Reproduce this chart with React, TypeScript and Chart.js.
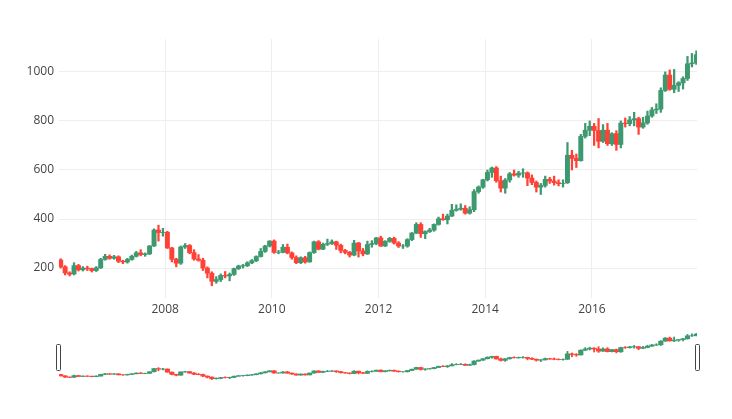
import React, { useEffect, useRef } from 'react';
import { Chart, registerables } from 'chart.js';

Chart.register(...registerables);

// Monthly OHLC, Jan 2006 .. Dec 2017
const START_YEAR = 2006;
const opens = [
  233, 205, 180, 176, 210, 193, 200, 198, 190, 201, 235, 248,
  240, 246, 228, 225, 235, 248, 262, 255, 258, 290, 355, 345,
  346, 282, 236, 220, 286, 292, 263, 237, 232, 200, 179, 146,
  153, 170, 168, 174, 198, 208, 210, 221, 230, 247, 268, 290,
  310, 264, 264, 285, 262, 243, 222, 242, 225, 263, 307, 277,
  297, 300, 307, 293, 272, 264, 253, 302, 270, 258, 296, 300,
  323, 290, 309, 321, 302, 290, 290, 316, 343, 378, 340, 349,
  355, 378, 401, 397, 412, 436, 440, 444, 424, 438, 512, 530,
  560, 590, 608, 556, 526, 559, 584, 579, 587, 588, 567, 549,
  530, 537, 562, 555, 548, 544, 548, 660, 647, 638, 737, 762,
  778, 761, 717, 762, 707, 748, 704, 791, 789, 804, 809, 775,
  792, 820, 845, 848, 924, 987, 929, 945, 955, 973, 1033, 1036,
];
const highs = [
  238, 210, 185, 222, 215, 206, 208, 200, 206, 240, 256, 254,
  252, 250, 232, 240, 253, 268, 275, 262, 292, 360, 375, 362,
  350, 285, 240, 290, 300, 296, 275, 255, 240, 205, 185, 165,
  176, 186, 180, 200, 212, 215, 226, 235, 250, 280, 293, 312,
  315, 272, 296, 298, 266, 250, 246, 248, 266, 310, 312, 302,
  318, 315, 310, 298, 276, 268, 313, 305, 280, 310, 312, 325,
  330, 312, 325, 326, 308, 296, 320, 345, 385, 385, 352, 362,
  380, 408, 420, 420, 460, 458, 462, 455, 450, 520, 535, 562,
  600, 612, 614, 575, 565, 590, 600, 595, 605, 592, 580, 555,
  545, 575, 570, 575, 560, 560, 712, 680, 665, 745, 790, 800,
  790, 810, 785, 790, 752, 760, 800, 812, 818, 835, 815, 815,
  840, 855, 870, 935, 1000, 1008, 1010, 960, 980, 1063, 1075, 1086,
];
const lows = [
  200, 172, 168, 172, 188, 188, 190, 184, 186, 198, 232, 236,
  236, 222, 218, 220, 232, 245, 250, 248, 255, 288, 310, 330,
  280, 225, 205, 215, 280, 258, 232, 228, 190, 160, 128, 138,
  145, 160, 148, 170, 194, 200, 206, 218, 226, 245, 264, 286,
  260, 258, 262, 258, 236, 218, 218, 220, 224, 260, 274, 275,
  292, 296, 276, 262, 258, 245, 250, 245, 250, 255, 285, 295,
  288, 288, 305, 298, 284, 280, 285, 312, 340, 325, 320, 345,
  350, 375, 395, 380, 410, 432, 436, 420, 420, 430, 505, 525,
  555, 570, 550, 510, 505, 550, 575, 570, 570, 536, 540, 510,
  500, 530, 545, 538, 535, 530, 545, 600, 610, 636, 730, 740,
  700, 690, 712, 700, 700, 680, 690, 775, 780, 780, 745, 770,
  786, 815, 830, 835, 920, 925, 915, 920, 930, 965, 1020, 1030,
];
const closes = [
  205, 180, 175, 210, 193, 200, 198, 190, 201, 235, 248, 240,
  246, 228, 225, 235, 248, 262, 255, 258, 290, 355, 345, 346,
  282, 236, 220, 286, 292, 263, 237, 232, 200, 179, 146, 153,
  170, 168, 174, 198, 208, 210, 221, 230, 247, 268, 290, 310,
  264, 264, 285, 262, 243, 222, 242, 225, 263, 307, 277, 297,
  300, 307, 293, 272, 264, 253, 302, 270, 258, 296, 300, 323,
  290, 309, 321, 302, 290, 290, 316, 343, 378, 340, 349, 355,
  378, 401, 397, 412, 436, 440, 444, 424, 438, 512, 530, 560,
  590, 608, 556, 526, 559, 584, 579, 587, 588, 567, 549, 530,
  537, 562, 555, 548, 544, 545, 660, 647, 638, 737, 762, 778,
  761, 717, 762, 707, 748, 704, 791, 789, 804, 809, 775, 792,
  820, 845, 848, 924, 987, 929, 945, 955, 973, 1033, 1036, 1070,
];
const xTickYears = [2008, 2010, 2012, 2014, 2016];
const yTickValues = [200, 400, 600, 800, 1000];

const INC = '#3D9970';
const DEC = '#FF4136';
const FONT = "'Open Sans', verdana, arial, sans-serif";

const X_MIN = 2006.01;
const X_MAX = 2017.97;
const Y_MIN = 78;
const Y_MAX = 1134;

const monthX = opens.map((_, i) => START_YEAR + (i + 0.5) / 12);
const colorAt = (i: number) => (closes[i] >= opens[i] ? INC : DEC);

function candleDatasets(bodyW: number, wickW: number) {
  const cols = opens.map((_, i) => colorAt(i));
  return [
    {
      label: 'wick',
      data: monthX.map((x, i) => ({ x, y: [lows[i], highs[i]] })),
      backgroundColor: cols,
      borderWidth: 0,
      barThickness: wickW,
      grouped: false,
    },
    {
      label: 'body',
      data: monthX.map((x, i) => ({ x, y: [opens[i], closes[i]] })),
      backgroundColor: cols,
      borderWidth: 0,
      barThickness: bodyW,
      grouped: false,
    },
  ];
}

const handlesPlugin = {
  id: 'handles',
  afterDraw(chart: any) {
    const { ctx, chartArea } = chart;
    const h = 26;
    const w = 5;
    const top = chartArea.top + (chartArea.bottom - chartArea.top - h) / 2;
    ctx.save();
    ctx.fillStyle = '#fff';
    ctx.strokeStyle = '#444';
    ctx.lineWidth = 1;
    [chartArea.left - 0.5, chartArea.right + 0.5].forEach((cx: number) => {
      const x = Math.round(cx - w / 2) + 0.5;
      const y = Math.round(top) + 0.5;
      ctx.beginPath();
      if (ctx.roundRect) ctx.roundRect(x, y, w - 1, h, 1);
      else ctx.rect(x, y, w - 1, h);
      ctx.fill();
      ctx.stroke();
    });
    ctx.restore();
  },
};

export default function App() {
  const mainRef = useRef<HTMLCanvasElement>(null);
  const sliderRef = useRef<HTMLCanvasElement>(null);

  useEffect(() => {
    const main = new Chart(mainRef.current as HTMLCanvasElement, {
      type: 'bar',
      data: { datasets: candleDatasets(4.3, 1.6) as any },
      options: {
        animation: false,
        responsive: false,
        maintainAspectRatio: false,
        layout: { padding: { left: 0, right: 35, top: 39, bottom: 0 } },
        plugins: { legend: { display: false }, tooltip: { enabled: false } },
        scales: {
          x: {
            type: 'linear',
            min: X_MIN,
            max: X_MAX,
            offset: false,
            grid: { color: '#eee', lineWidth: 1, drawTicks: false, offset: false },
            border: { display: false },
            afterBuildTicks: (s: any) => {
              s.ticks = xTickYears.map((v) => ({ value: v }));
            },
            afterFit: (s: any) => {
              s.height = 32;
            },
            ticks: {
              color: '#444',
              font: { family: FONT, size: 12 },
              padding: 4,
              maxRotation: 0,
              autoSkip: false,
              callback: (v: any) => String(v),
            },
          },
          y: {
            type: 'linear',
            min: Y_MIN,
            max: Y_MAX,
            grid: { color: '#eee', lineWidth: 1, drawTicks: false },
            border: { display: false },
            afterBuildTicks: (s: any) => {
              s.ticks = yTickValues.map((v) => ({ value: v }));
            },
            afterFit: (s: any) => {
              s.width = 59;
            },
            ticks: {
              color: '#444',
              font: { family: FONT, size: 12 },
              padding: 5,
              callback: (v: any) => String(v),
            },
          },
        },
      },
    });

    const slider = new Chart(sliderRef.current as HTMLCanvasElement, {
      type: 'bar',
      data: { datasets: candleDatasets(4.5, 1.2) as any },
      options: {
        animation: false,
        responsive: false,
        maintainAspectRatio: false,
        layout: { padding: { left: 59, right: 35, top: 6, bottom: 13 } },
        plugins: { legend: { display: false }, tooltip: { enabled: false } },
        scales: {
          x: { type: 'linear', min: X_MIN, max: X_MAX, display: false, offset: false },
          y: { type: 'linear', min: Y_MIN, max: Y_MAX, display: false },
        },
      },
      plugins: [handlesPlugin],
    });

    return () => {
      main.destroy();
      slider.destroy();
    };
  }, []);

  return (
    <div
      style={{
        position: 'fixed',
        left: 0,
        top: 0,
        width: 732,
        height: 419,
        background: '#fff',
        overflow: 'hidden',
      }}
    >
      <canvas
        ref={mainRef}
        width={732}
        height={330}
        style={{ position: 'absolute', left: 0, top: 0, width: 732, height: 330 }}
      />
      <canvas
        ref={sliderRef}
        width={732}
        height={70}
        style={{ position: 'absolute', left: 0, top: 325, width: 732, height: 70 }}
      />
    </div>
  );
}
